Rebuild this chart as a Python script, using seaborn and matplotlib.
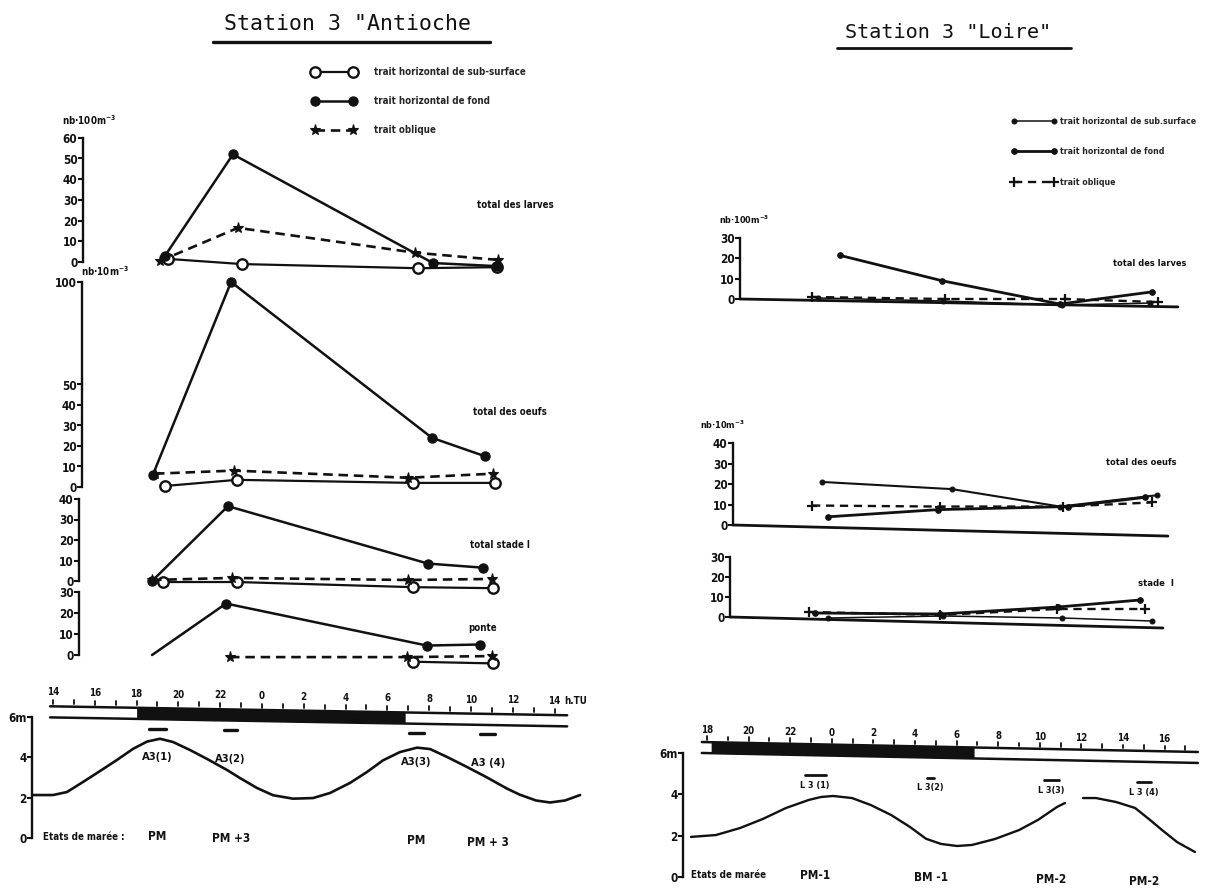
import numpy as np
import matplotlib
matplotlib.use("Agg")
import matplotlib.pyplot as plt
from matplotlib.lines import Line2D
import seaborn as sns

# ------------------------------------------------------------------
# Station 3 "Antioche"  (time in hours TU counted from day 1, 24 = 0 h day 2)
# ------------------------------------------------------------------
ANT_LAR_SUB_T = [19.50, 23.04, 31.46, 35.24]
ANT_LAR_SUB = [1.5, -1.0, -3.0, -2.5]
ANT_LAR_FOND_T = [19.36, 22.61, 32.18, 35.24]
ANT_LAR_FOND = [3.0, 52.0, -0.5, -2.0]
ANT_LAR_OBL_T = [19.12, 22.85, 31.32, 35.29]
ANT_LAR_OBL = [0.5, 16.5, 4.5, 1.0]

ANT_OEU_SUB_T = [19.36, 22.80, 31.22, 35.15]
ANT_OEU_SUB = [0.5, 3.5, 2.0, 2.0]
ANT_OEU_FOND_T = [18.78, 22.52, 32.13, 34.67]
ANT_OEU_FOND = [6.0, 100.0, 24.0, 15.0]
ANT_OEU_OBL_T = [18.88, 22.66, 30.99, 35.05]
ANT_OEU_OBL = [6.5, 8.0, 4.5, 6.5]

ANT_ST1_SUB_T = [19.26, 22.80, 31.22, 35.05]
ANT_ST1_SUB = [-0.5, -0.5, -3.0, -3.5]
ANT_ST1_FOND_T = [18.74, 22.37, 31.94, 34.57]
ANT_ST1_FOND = [0.0, 36.5, 8.5, 6.5]
ANT_ST1_OBL_T = [18.74, 22.56, 30.99, 35.00]
ANT_ST1_OBL = [0.5, 1.5, 0.5, 1.0]

ANT_PON_SUB_T = [31.22, 35.05]
ANT_PON_SUB = [-3.2, -4.0]
ANT_PON_FOND_T = [18.74, 22.28, 31.89, 34.43]
ANT_PON_FOND = [0.0, 24.5, 4.5, 5.0]
ANT_PON_OBL_T = [22.47, 30.94, 35.00]
ANT_PON_OBL = [-1.0, -1.0, -0.5]

# tide height (m) read along the marigramme
ANT_TIDE_T = [13.04, 14.0, 14.67, 15.44, 16.25, 17.06, 17.83, 18.5, 19.12, 19.74,
              20.56, 21.37, 22.33, 22.95, 23.76, 24.53, 25.48, 26.44, 27.25, 28.21,
              29.02, 29.79, 30.6, 31.42, 32.04, 32.85, 33.81, 34.77, 35.72, 36.33,
              37.11, 37.78, 38.5, 39.22]
ANT_TIDE_H = [2.13, 2.13, 2.28, 2.78, 3.32, 3.87, 4.42, 4.78, 4.92, 4.76,
              4.36, 3.92, 3.37, 2.97, 2.48, 2.12, 1.95, 1.98, 2.23, 2.73,
              3.27, 3.85, 4.26, 4.48, 4.41, 4.02, 3.52, 3.0, 2.45, 2.15,
              1.86, 1.76, 1.86, 2.13]

ANT_SAMPLE_T = [19.0, 22.5, 31.4, 34.8]
ANT_SAMPLE_DUR = [0.8, 0.6, 0.7, 0.7]
ANT_SAMPLE_NAMES = ["A3(1)", "A3(2)", "A3(3)", "A3 (4)"]
ANT_TIDE_STATES = ["PM", "PM +3", "PM", "PM + 3"]
ANT_NIGHT = (18.0, 30.85)
ANT_HOURS = list(range(14, 39))

# ------------------------------------------------------------------
# Station 3 "Loire"
# ------------------------------------------------------------------
LOI_LAR_SUB_T = [23.34, 29.35, 35.07, 39.30]
LOI_LAR_SUB = [0.5, -1.0, -3.0, -2.0]
LOI_LAR_FOND_T = [24.39, 29.30, 34.97, 39.39]
LOI_LAR_FOND = [21.5, 9.0, -2.5, 3.5]
LOI_LAR_OBL_T = [23.05, 29.44, 35.21, 39.68]
LOI_LAR_OBL = [1.0, 0.0, 0.0, -1.5]

LOI_OEU_SUB_T = [23.82, 29.11, 35.36, 39.06]
LOI_OEU_SUB = [4.0, 7.5, 9.0, 13.5]
LOI_OEU_FOND_T = [23.53, 29.78, 34.97, 39.63]
LOI_OEU_FOND = [21.0, 17.5, 9.0, 14.5]
LOI_OEU_OBL_T = [23.05, 29.20, 35.12, 39.39]
LOI_OEU_OBL = [9.5, 9.0, 9.0, 11.0]

LOI_ST1_SUB_T = [23.82, 29.35, 35.07, 39.39]
LOI_ST1_SUB = [-0.5, 0.5, -0.5, -2.0]
LOI_ST1_FOND_T = [23.19, 29.20, 34.88, 38.82]
LOI_ST1_FOND = [2.0, 1.5, 5.0, 8.5]
LOI_ST1_OBL_T = [22.90, 29.20, 34.83, 39.06]
LOI_ST1_OBL = [2.5, 1.0, 4.0, 4.0]

LOI_TIDE_T1 = [17.23, 18.43, 19.59, 20.69, 21.8, 22.9, 23.48, 24.06, 24.97, 25.88,
               26.85, 27.76, 28.53, 29.25, 30.02, 30.74, 31.85, 33.0, 33.91, 34.83, 35.21]
LOI_TIDE_H1 = [1.94, 2.03, 2.37, 2.81, 3.34, 3.73, 3.87, 3.92, 3.82, 3.48,
               3.0, 2.42, 1.85, 1.6, 1.5, 1.55, 1.84, 2.27, 2.76, 3.39, 3.58]
LOI_TIDE_T2 = [36.08, 36.7, 37.66, 38.58, 39.3, 39.88, 40.6, 41.46]
LOI_TIDE_H2 = [3.82, 3.82, 3.63, 3.34, 2.76, 2.27, 1.69, 1.21]

LOI_SAMPLE_T = [23.2, 28.75, 34.55, 39.0]
LOI_SAMPLE_DUR = [1.0, 0.3, 0.7, 0.7]
LOI_SAMPLE_NAMES = ["L 3 (1)", "L 3(2)", "L 3(3)", "L 3 (4)"]
LOI_TIDE_STATES = ["PM-1", "BM -1", "PM-2", "PM-2"]
LOI_NIGHT = (18.2, 30.84)
LOI_HOURS = list(range(18, 42))

LEGEND_LABELS_ANT = ["trait horizontal de sub-surface", "trait horizontal de fond", "trait oblique"]
LEGEND_LABELS_LOI = ["trait horizontal de sub.surface", "trait horizontal de fond", "trait oblique"]

# ------------------------------------------------------------------
sns.set_theme(style="white")
plt.rcParams["font.family"] = ["Liberation Sans Narrow", "DejaVu Sans"]
plt.rcParams["font.stretch"] = "condensed"
plt.rcParams["font.weight"] = "bold"
plt.rcParams["mathtext.default"] = "regular"

W, H = 1208, 888
INK = "#111111"
fig = plt.figure(figsize=(W / 100, H / 100), dpi=100, facecolor="white")

ANT_STYLE = {
    "sub": dict(color=INK, linewidth=1.6, marker="o", markersize=7.5,
                markerfacecolor="white", markeredgecolor=INK, markeredgewidth=1.7),
    "fond": dict(color=INK, linewidth=1.8, marker="o", markersize=6.5,
                 markerfacecolor=INK, markeredgecolor=INK, markeredgewidth=1.0),
    "obl": dict(color=INK, linewidth=1.9, linestyle=(0, (3.6, 2.2)), marker="*",
                markersize=8, markerfacecolor=INK, markeredgecolor=INK, markeredgewidth=0.8),
}
LOI_STYLE = {
    "sub": dict(color=INK, linewidth=1.1, marker="o", markersize=3.5,
                markerfacecolor=INK, markeredgecolor=INK, markeredgewidth=0.8),
    "fond": dict(color=INK, linewidth=2.0, marker="o", markersize=4,
                 markerfacecolor=INK, markeredgecolor=INK, markeredgewidth=0.8),
    "obl": dict(color=INK, linewidth=1.7, linestyle=(0, (3.5, 2.4)), marker="+",
                markersize=7, markerfacecolor=INK, markeredgecolor=INK, markeredgewidth=1.6),
}


def panel(spine_px, right_px, top_px, bottom_px, xref, yref):
    """Axes placed in pixel units; xref=(px, t, px per hour), yref=(px of 0, px per unit)."""
    ax = fig.add_axes([spine_px / W, 1 - bottom_px / H,
                       (right_px - spine_px) / W, (bottom_px - top_px) / H])
    xp, t0, kx = xref
    y0, ky = yref
    ax.set_xlim(t0 + (spine_px - xp) / kx, t0 + (right_px - xp) / kx)
    ax.set_ylim((y0 - bottom_px) / ky, (y0 - top_px) / ky)
    ax.patch.set_visible(False)
    for s in ("top", "right", "bottom"):
        ax.spines[s].set_visible(False)
    ax.spines["left"].set_color(INK)
    ax.spines["left"].set_linewidth(1.7)
    ax.set_xticks([])
    ax.tick_params(axis="y", left=True, direction="out", length=3.5, width=1.5,
                   color=INK, pad=0.5, labelsize=8.5, labelcolor=INK)
    ax.grid(False)
    return ax


def y_axis(ax, ticks, labels=None, top=None):
    ax.set_yticks(ticks)
    ax.set_yticklabels(labels if labels else [str(t) for t in ticks], fontweight="bold")
    ax.spines["left"].set_bounds(0, top if top is not None else max(ticks))


def series(ax, t, v, style, **extra):
    kws = {**style, **extra}
    sns.lineplot(x=t, y=v, ax=ax, sort=False, estimator=None, errorbar=None,
                 legend=False, clip_on=False, **kws)


def time_bar(ax, hours, t_start, t_end, night, top0, slope, thick, lab_dy, tick_dy):
    top = lambda t: top0 + slope * (np.asarray(t) - t_start)
    tt = np.array([t_start, t_end])
    ax.plot(tt, top(tt), color=INK, lw=1.8, clip_on=False)
    ax.plot(tt, top(tt) - thick, color=INK, lw=1.8, clip_on=False)
    tn = np.linspace(night[0], night[1], 2)
    ax.fill_between(tn, top(tn) - thick, top(tn), color=INK, lw=0, clip_on=False)
    for h in hours:
        y = float(top(h))
        ax.plot([h, h], [y + tick_dy[0], y + tick_dy[1]], color=INK, lw=1.3, clip_on=False)
        if h % 2 == 0:
            ax.text(h, y + lab_dy, str(h % 24), ha="center", va="center",
                    fontsize=7, fontweight="bold", color=INK)
    return top


# ================= Station 3 "Antioche" =================
ANT_X = (53, 14.0, 20.9)
ax_lar = panel(83, 600, 130, 280, ANT_X, (262, 2.07))
y_axis(ax_lar, [0, 10, 20, 30, 40, 50, 60])
series(ax_lar, ANT_LAR_SUB_T, ANT_LAR_SUB, ANT_STYLE["sub"])
series(ax_lar, ANT_LAR_FOND_T, ANT_LAR_FOND, ANT_STYLE["fond"])
series(ax_lar, ANT_LAR_OBL_T, ANT_LAR_OBL, ANT_STYLE["obl"])
ax_lar.text(14.45, 68.5, "nb·100m$^{-3}$", fontsize=7, ha="left", va="center", color=INK)
ax_lar.text(34.3, 27.5, "total des larves", fontsize=6.9, ha="left", va="center", color=INK)

ax_oeu = panel(82, 600, 270, 497, ANT_X, (487, 2.05))
y_axis(ax_oeu, [0, 10, 20, 30, 40, 50, 100])
series(ax_oeu, ANT_OEU_SUB_T, ANT_OEU_SUB, ANT_STYLE["sub"])
series(ax_oeu, ANT_OEU_FOND_T, ANT_OEU_FOND, ANT_STYLE["fond"])
series(ax_oeu, ANT_OEU_OBL_T, ANT_OEU_OBL, ANT_STYLE["obl"])
ax_oeu.text(15.35, 105.5, "nb·10m$^{-3}$", fontsize=7, ha="left", va="center", color=INK)
ax_oeu.text(34.1, 36.6, "total des oeufs", fontsize=6.9, ha="left", va="center", color=INK)

ax_st1 = panel(79, 600, 492, 592, ANT_X, (581, 2.05))
y_axis(ax_st1, [0, 10, 20, 30, 40])
series(ax_st1, ANT_ST1_SUB_T, ANT_ST1_SUB, ANT_STYLE["sub"])
series(ax_st1, ANT_ST1_FOND_T, ANT_ST1_FOND, ANT_STYLE["fond"])
series(ax_st1, ANT_ST1_OBL_T, ANT_ST1_OBL, ANT_STYLE["obl"])
ax_st1.text(33.95, 17.6, "total stade I", fontsize=6.9, ha="left", va="center", color=INK)

ax_pon = panel(79, 600, 586, 672, ANT_X, (655, 2.1))
y_axis(ax_pon, [0, 10, 20, 30])
series(ax_pon, ANT_PON_SUB_T, ANT_PON_SUB, ANT_STYLE["sub"])
series(ax_pon, ANT_PON_FOND_T, ANT_PON_FOND, ANT_STYLE["fond"], markevery=[1, 2, 3])
series(ax_pon, ANT_PON_OBL_T, ANT_PON_OBL, ANT_STYLE["obl"])
ax_pon.text(33.85, 12.9, "ponte", fontsize=6.9, ha="left", va="center", color=INK)

ax_tid = panel(32, 600, 670, 860, ANT_X, (838, 20.17))
y_axis(ax_tid, [0, 2, 4, 6], ["0", "2", "4", "6m"])
series(ax_tid, ANT_TIDE_T, ANT_TIDE_H, dict(color=INK, linewidth=1.9))
top_a = time_bar(ax_tid, ANT_HOURS, 13.86, 38.6, ANT_NIGHT, 6.53, -0.018, 0.55,
                 0.69, (0.12, 0.32))
ax_tid.text(38.45, float(top_a(38.45)) + 0.69, "h.TU", fontsize=7, ha="left",
            va="center", color=INK)
for t, d, name, state in zip(ANT_SAMPLE_T, ANT_SAMPLE_DUR, ANT_SAMPLE_NAMES, ANT_TIDE_STATES):
    yd = float(top_a(t)) - 0.55 - 0.46
    ax_tid.plot([t - d / 2, t + d / 2], [yd, yd], color=INK, lw=2.4, clip_on=False)
    ax_tid.text(t, yd - 1.43, name, fontsize=8, ha="center", va="center", color=INK)
    ax_tid.text(t, 0.05 - 0.016 * (t - 19), state, fontsize=8.5, ha="center",
                va="center", color=INK)
ax_tid.text(13.52, 0.05, "Etats de marée :", fontsize=7, ha="left", va="center", color=INK)

# ================= Station 3 "Loire" =================
LOI_X = (707, 18.0, 20.8)
ax_llar = panel(740, 1208, 225, 318, LOI_X, (299, 2.03))
y_axis(ax_llar, [0, 10, 20, 30])
ax_llar.plot([19.59, 40.64], [0, -3.9], color=INK, lw=2.0, clip_on=False)
series(ax_llar, LOI_LAR_SUB_T, LOI_LAR_SUB, LOI_STYLE["sub"])
series(ax_llar, LOI_LAR_FOND_T, LOI_LAR_FOND, LOI_STYLE["fond"])
series(ax_llar, LOI_LAR_OBL_T, LOI_LAR_OBL, LOI_STYLE["obl"])
ax_llar.text(18.6, 39.0, "nb·100m$^{-3}$", fontsize=6.5, ha="left", va="center", color=INK)
ax_llar.text(37.5, 17.7, "total des larves", fontsize=6.7, ha="left", va="center", color=INK)

ax_loeu = panel(733, 1208, 430, 548, LOI_X, (525, 2.05))
y_axis(ax_loeu, [0, 10, 20, 30, 40])
ax_loeu.plot([19.25, 40.16], [0, -5.4], color=INK, lw=2.0, clip_on=False)
series(ax_loeu, LOI_OEU_SUB_T, LOI_OEU_SUB, LOI_STYLE["fond"])
series(ax_loeu, LOI_OEU_FOND_T, LOI_OEU_FOND, LOI_STYLE["sub"], linewidth=1.5)
series(ax_loeu, LOI_OEU_OBL_T, LOI_OEU_OBL, LOI_STYLE["obl"])
ax_loeu.text(17.65, 49.0, "nb·10m$^{-3}$", fontsize=6.5, ha="left", va="center", color=INK)
ax_loeu.text(37.2, 30.7, "total des oeufs", fontsize=6.7, ha="left", va="center", color=INK)

ax_lst1 = panel(730, 1208, 550, 638, LOI_X, (617, 2.0))
y_axis(ax_lst1, [0, 10, 20, 30])
ax_lst1.plot([19.1, 39.92], [0, -5.5], color=INK, lw=2.0, clip_on=False)
series(ax_lst1, LOI_ST1_SUB_T, LOI_ST1_SUB, LOI_STYLE["sub"])
series(ax_lst1, LOI_ST1_FOND_T, LOI_ST1_FOND, LOI_STYLE["fond"])
series(ax_lst1, LOI_ST1_OBL_T, LOI_ST1_OBL, LOI_STYLE["obl"])
ax_lst1.text(38.7, 17.0, "stade  I", fontsize=6.8, ha="left", va="center", color=INK)

ax_ltid = panel(683, 1208, 715, 888, LOI_X, (877, 20.67))
y_axis(ax_ltid, [0, 2, 4, 6], ["0", "2", "4", "6m"])
series(ax_ltid, LOI_TIDE_T1, LOI_TIDE_H1, dict(color=INK, linewidth=1.7))
series(ax_ltid, LOI_TIDE_T2, LOI_TIDE_H2, dict(color=INK, linewidth=1.7))
top_l = time_bar(ax_ltid, LOI_HOURS, 17.75, 41.6, LOI_NIGHT, 6.53, -0.0202, 0.53,
                 0.58, (0.1, 0.28))
for t, d, name, state in zip(LOI_SAMPLE_T, LOI_SAMPLE_DUR, LOI_SAMPLE_NAMES, LOI_TIDE_STATES):
    yd = float(top_l(t)) - 0.53 - 0.97
    ax_ltid.plot([t - d / 2, t + d / 2], [yd, yd], color=INK, lw=2.0, clip_on=False)
    ax_ltid.text(t, yd - 0.5, name, fontsize=6.5, ha="center", va="center", color=INK)
    ax_ltid.text(t, 0.1 - 0.02 * (t - 23), state, fontsize=8.5, ha="center",
                 va="center", color=INK)
ax_ltid.text(17.25, 0.08, "Etats de marée", fontsize=7, ha="left", va="center", color=INK)

# ================= titles and legends =================
fig.text(348 / W, 1 - 24 / H, 'Station 3 "Antioche', ha="center", va="center",
         family="DejaVu Sans Mono", fontweight="normal", fontstretch="normal",
         fontsize=15.5, color=INK)
fig.add_artist(Line2D([213 / W, 490 / W], [1 - 42 / H, 1 - 42 / H], color=INK, lw=2.4))
fig.text(948 / W, 1 - 32 / H, 'Station 3 "Loire"', ha="center", va="center",
         family="DejaVu Sans Mono", fontweight="normal", fontstretch="normal",
         fontsize=14.5, color=INK)
fig.add_artist(Line2D([837 / W, 1071 / W], [1 - 48 / H, 1 - 48 / H], color=INK, lw=2.0))

ant_handles = [Line2D([], [], **ANT_STYLE[k]) for k in ("sub", "fond", "obl")]
fig.legend(ant_handles, LEGEND_LABELS_ANT, loc="upper left",
           bbox_to_anchor=(312 / W, 1 - 67 / H), frameon=False, borderpad=0,
           borderaxespad=0, numpoints=2, handlelength=4.5, handletextpad=1.9,
           labelspacing=1.95, prop=dict(size=7, weight="bold"))
loi_handles = [Line2D([], [], **LOI_STYLE[k]) for k in ("sub", "fond", "obl")]
fig.legend(loi_handles, LEGEND_LABELS_LOI, loc="upper left",
           bbox_to_anchor=(1011 / W, 1 - 117 / H), frameon=False, borderpad=0,
           borderaxespad=0, numpoints=2, handlelength=5.2, handletextpad=0.4,
           labelspacing=2.45, prop=dict(size=6.3, weight="bold"))

fig.savefig("out.png", dpi=100, facecolor="white")
